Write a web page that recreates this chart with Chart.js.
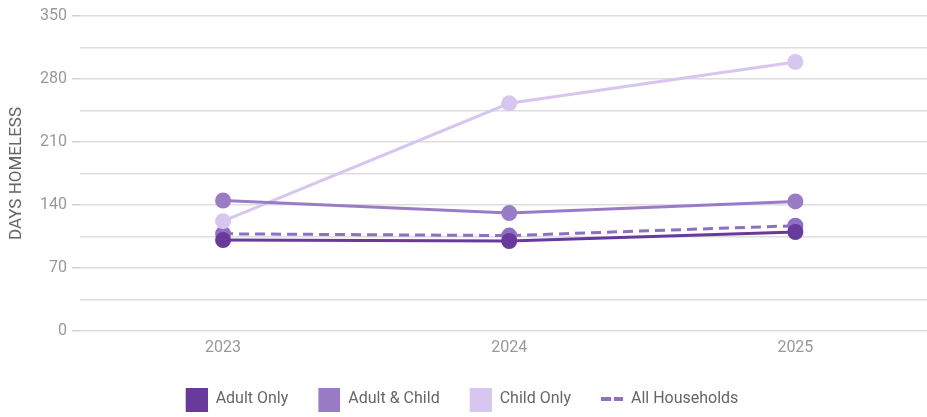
<!DOCTYPE html>
<html>
<head>
<meta charset="utf-8">
<script src="https://cdn.jsdelivr.net/npm/chart.js@4/dist/chart.umd.min.js"></script>
<style>
  html, body { margin: 0; background: #fff; overflow: hidden; }
  canvas { display: block; }
</style>
</head>
<body>
<canvas id="chart" width="927" height="417"></canvas>
<script>
const years = ['2023', '2024', '2025'];
const adultOnly = [101, 100, 110];
const adultChild = [145, 131, 144];
const childOnly = [122, 253, 299];
const allHouseholds = [108, 106, 117];
const yLabels = [0, 70, 140, 210, 280, 350];

const seriesNames = ['Adult Only', 'Adult & Child', 'Child Only', 'All Households'];
const seriesColors = ['#683a9b', '#9a7cc6', '#d6c6f0', '#8f6fc4'];

// legend icons: a square box, or two short dashes for the dashed line
function legendIcon(color, dashed) {
  const c = document.createElement('canvas');
  c.width = 49;
  c.height = 26;
  const g = c.getContext('2d');
  g.fillStyle = color;
  if (dashed) {
    g.fillRect(27, 11, 10, 4);
    g.fillRect(40, 11, 9, 4);
  } else {
    g.fillRect(27, 0, 22, 26);
  }
  return c;
}

// icons carry a blank left margin, so pull the legend back to the centre
const legendShift = {
  id: 'legendShift',
  afterLayout(c) {
    c.legend.left -= 15;
    c.legend.right -= 15;
  }
}

const ctx = document.getElementById('chart');

const data = {
  labels: years,
  datasets: [
    {
      label: seriesNames[0],
      data: adultOnly,
      borderColor: seriesColors[0],
      backgroundColor: seriesColors[0],
    },
    {
      label: seriesNames[1],
      data: adultChild,
      borderColor: seriesColors[1],
      backgroundColor: seriesColors[1],
    },
    {
      label: seriesNames[2],
      data: childOnly,
      borderColor: seriesColors[2],
      backgroundColor: seriesColors[2],
    },
    {
      label: seriesNames[3],
      data: allHouseholds,
      borderColor: seriesColors[3],
      backgroundColor: seriesColors[3],
      borderDash: [10, 6],
    },
  ]
}

const chart = new Chart(ctx, {
  type: 'line',
  data: data,
  plugins: [legendShift],
  options: {
    responsive: false,
    animation: false,
    devicePixelRatio: 1,
    layout: {
      autoPadding: false,
      padding: { top: 16, left: 0, right: 0, bottom: 0 }
    },
    elements: {
      line: { borderWidth: 3, tension: 0 },
      point: { radius: 8, borderWidth: 0, hoverRadius: 8 }
    },
    plugins: {
      tooltip: { enabled: false },
      legend: {
        position: 'bottom',
        labels: {
          usePointStyle: true,
          pointStyleWidth: 49,
          padding: 3,
          color: '#666',
          font: { family: 'Roboto', size: 16 },
          generateLabels: function (c) {
            return c.data.datasets.map((ds, i) => ({
              text: ds.label,
              pointStyle: legendIcon(seriesColors[i], i === 3),
              fillStyle: seriesColors[i],
              strokeStyle: seriesColors[i],
              lineWidth: 0,
              fontColor: '#666',
              hidden: false,
              datasetIndex: i
            }))
          }
        }
      }
    },
    scales: {
      x: {
        // years on a linear axis so the margins left and right can be set
        type: 'linear',
        min: 2022.5,
        max: 2025.46,
        grid: { display: false, drawTicks: false },
        border: { display: false },
        ticks: {
          stepSize: 1,
          color: '#999',
          padding: 7,
          font: { family: 'Roboto', size: 16 },
          callback: function (value) {
            return Number.isInteger(value) ? String(value) : ''
          }
        },
        afterFit: function (axis) {
          axis.height = 57;
          axis.paddingLeft = 0;
          axis.paddingRight = 0;
        }
      },
      y: {
        min: 0,
        max: 350,
        border: { display: false },
        grid: {
          color: '#dedede',
          lineWidth: 1.5,
          tickLength: 8,
          tickColor: function (c) {
            return c.tick && yLabels.includes(c.tick.value) ? '#d0d0d0' : 'rgba(0,0,0,0)'
          }
        },
        ticks: {
          stepSize: 17.5,
          color: '#999',
          padding: 5,
          font: { family: 'Roboto', size: 16 },
          callback: function (value) {
            return yLabels.includes(value) ? value : ''
          }
        },
        title: {
          display: true,
          text: 'DAYS HOMELESS',
          color: '#666',
          padding: { top: 7, bottom: 0 },
          font: { family: 'Roboto', size: 17 }
        },
        afterFit: function (axis) { axis.width = 80 }
      }
    }
  }
})
</script>
</body>
</html>
